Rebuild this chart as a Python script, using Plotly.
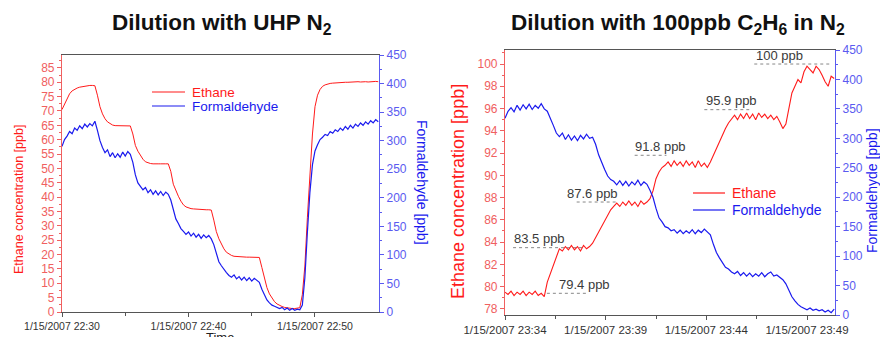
import pandas as pd
import plotly.graph_objects as go

# ---------------- left panel: dilution with UHP N2 ----------------
# instrument readings every 0.2 min starting 22:30
left_start = "2007-01-15 22:30:00"
left_step_min = 0.2
left_ethane = [
    70.5, 72.5, 74.5, 76.0, 77.0, 77.6, 78.0, 78.3, 78.5, 78.7,
    78.8, 78.9, 78.9, 78.8, 75.5, 71.5, 69.0, 67.3, 66.2, 65.5,
    65.1, 64.9, 64.9, 64.8, 64.9, 64.8, 64.8, 64.8, 62.0, 58.0,
    56.0, 54.5, 53.2, 52.3, 51.9, 51.7, 51.6, 51.7, 51.6, 51.6,
    51.7, 51.6, 51.6, 49.0, 44.5, 42.2, 40.3, 38.6, 37.3, 36.6,
    36.2, 36.0, 35.9, 35.8, 35.8, 35.7, 35.7, 35.6, 35.6, 35.5,
    32.0, 28.0, 25.5, 23.5, 22.0, 20.8, 20.1, 19.7, 19.4, 19.3,
    19.3, 19.2, 19.2, 19.1, 19.1, 19.1, 19.0, 19.0, 19.0, 15.5,
    11.5, 8.5, 6.3, 4.8, 3.6, 2.8, 2.3, 1.9, 1.6, 1.4,
    1.3, 1.2, 1.2, 1.3, 1.5, 6.0, 16.0, 33.0, 50.0, 62.0,
    71.5, 75.5, 77.5, 78.6, 79.1, 79.4, 79.6, 79.7, 79.8, 79.8,
    79.9, 79.9, 80.0, 80.0, 80.1, 80.0, 80.1, 80.2, 80.1, 80.2,
    80.2, 80.1, 80.2, 80.2, 80.3, 80.2,
]
left_formaldehyde = [
    290, 302, 308, 316, 312, 322, 318, 326, 321, 329,
    324, 330, 326, 334, 318, 300, 288, 279, 284, 272,
    279, 270, 277, 271, 280, 273, 281, 276, 262, 240,
    226, 219, 214, 218, 209, 214, 206, 212, 205, 211,
    204, 210, 206, 196, 178, 163, 155, 146, 141, 136,
    140, 133, 138, 131, 136, 129, 135, 130, 134, 128,
    118, 102, 88, 81, 74, 69, 64, 61, 65, 58,
    62, 56, 61, 55, 60, 54, 59, 56, 52, 40,
    29, 21, 16, 12, 10, 8, 6, 8, 4, 7,
    3, 6, 3, 5, 4, 12, 60, 140, 210, 258,
    282, 293, 302, 306, 311, 309, 316, 313, 319, 316,
    322, 318, 325, 320, 327, 322, 329, 325, 331, 327,
    333, 329, 335, 331, 337, 333,
]
left_ticks = ["1/15/2007 22:30", "1/15/2007 22:40", "1/15/2007 22:50"]

# ---------------- right panel: dilution with 100 ppb C2H6 in N2 ----------------
# readings every 0.15 min starting 23:34
right_start = "2007-01-15 23:34:00"
right_step_min = 0.15
right_ethane = [
    79.5, 79.3, 79.6, 79.2, 79.5, 79.3, 79.6, 79.2, 79.5, 79.3,
    79.6, 79.2, 79.4, 79.1, 80.4, 81.2, 81.9, 82.8, 83.4, 83.2,
    83.6, 83.3, 83.7, 83.3, 83.6, 83.2, 83.7, 83.4, 83.6, 83.9,
    84.4, 84.9, 85.5, 86.0, 86.5, 86.9, 87.2, 87.5, 87.2, 87.6,
    87.3, 87.7, 87.3, 87.6, 87.2, 87.7, 87.4, 87.6, 87.9, 88.6,
    89.7, 90.3, 90.7, 90.9, 91.2, 90.8, 91.3, 90.9, 91.2, 90.8,
    91.3, 90.9, 91.2, 90.7, 91.3, 90.8, 91.1, 90.7, 91.2, 91.8,
    92.5, 93.0, 93.6, 94.2, 94.7, 95.1, 95.4, 95.0, 95.5, 95.1,
    95.6, 95.1, 95.5, 95.0, 95.6, 95.2, 95.5, 95.1, 95.4, 95.0,
    95.3, 94.8, 94.2, 94.6, 96.2, 97.4, 98.0, 98.6, 98.3, 99.3,
    99.8, 99.5, 99.2, 99.8, 99.5, 99.0, 98.4, 98.0, 98.9, 98.7,
]
right_formaldehyde = [
    334, 346, 352, 345, 356, 348, 357, 350, 358, 349,
    356, 351, 359, 350, 346, 335, 322, 309, 303, 309,
    298, 306, 297, 304, 296, 305, 299, 307, 300, 302,
    290, 272, 258, 247, 236, 230, 227, 221, 228, 220,
    227, 219, 226, 221, 229, 220, 226, 222, 212, 200,
    181, 165, 158, 150, 148, 143, 145, 139, 144, 138,
    143, 139, 145, 138, 144, 140, 146, 141, 136, 120,
    106, 97, 88, 81, 78, 73, 70, 74, 67, 72,
    66, 71, 65, 70, 66, 72, 65, 70, 73, 66,
    68, 64, 60, 53, 42, 31, 24, 18, 14, 11,
    9, 12, 8, 10, 7, 9, 5, 8, 4, 10,
]
right_ticks = ["1/15/2007 23:34", "1/15/2007 23:39", "1/15/2007 23:44", "1/15/2007 23:49"]

# concentration steps marked on the right panel
step_values = [79.4, 83.5, 87.6, 91.8, 95.9, 100]
# where each dotted marker runs and where its text starts (minutes after 23:34)
step_line_from = [2.08, 0.40, 3.56, 6.44, 9.90, 12.38]
step_line_to = [4.11, 3.86, 5.54, 8.02, 12.13, 16.24]
step_text_at = [2.57, 0.35, 2.97, 6.34, 9.90, 12.38]

# ---------------- styling ----------------
W, H = 880, 337
FONT = "Liberation Sans, Arial, sans-serif"
RED = "#ff1a1a"
BLUE = "#1a1aee"
RED_AX = "#f06060"
BLUE_AX = "#5a5af0"
GRAY_TXT = "#3a3a3a"


def px_x(px):
    return px / W


def px_y(py):
    return 1 - py / H


def times(start, step, n):
    return pd.Timestamp(start) + pd.to_timedelta([i * step for i in range(n)], unit="min")


def at(start, minutes):
    return pd.Timestamp(start) + pd.to_timedelta(minutes, unit="min")


lt = times(left_start, left_step_min, len(left_ethane))
rt = times(right_start, right_step_min, len(right_ethane))

fig = go.Figure()
fig.add_trace(go.Scatter(x=lt, y=left_ethane, mode="lines", line=dict(color=RED, width=1),
                         xaxis="x", yaxis="y", showlegend=False))
fig.add_trace(go.Scatter(x=lt, y=left_formaldehyde, mode="lines", line=dict(color=BLUE, width=1.2),
                         xaxis="x", yaxis="y2", showlegend=False))

# dotted step markers under the text labels
for v, a, b in zip(step_values, step_line_from, step_line_to):
    fig.add_trace(go.Scatter(x=[at(right_start, a), at(right_start, b)], y=[v, v], mode="lines",
                             line=dict(color="#888888", width=1, dash="dot"),
                             xaxis="x2", yaxis="y3", showlegend=False, hoverinfo="skip"))

fig.add_trace(go.Scatter(x=rt, y=right_ethane, mode="lines", line=dict(color=RED, width=1.1),
                         xaxis="x2", yaxis="y3", showlegend=False))
fig.add_trace(go.Scatter(x=rt, y=right_formaldehyde, mode="lines", line=dict(color=BLUE, width=1.2),
                         xaxis="x2", yaxis="y4", showlegend=False))

fmt = "%m/%d/%Y %H:%M"
left_tickvals = [pd.to_datetime(s, format=fmt) for s in left_ticks]
right_tickvals = [pd.to_datetime(s, format=fmt) for s in right_ticks]
left_minor = [v + pd.Timedelta(minutes=5) for v in left_tickvals[:-1]]
right_minor = [v + pd.Timedelta(seconds=150) for v in right_tickvals]

xcommon = dict(showgrid=False, zeroline=False, showline=True, linecolor="#555555", linewidth=1.2,
               mirror=True, ticks="outside", ticklen=4, tickcolor="#555555", automargin=False,
               tickfont=dict(family=FONT, color="#333333"))


def yaxis_style(color, step, minor_step):
    return dict(showgrid=False, zeroline=False, showline=True, linecolor=color, linewidth=1.2,
                ticks="outside", ticklen=4, tickcolor=color, dtick=step, tick0=0, automargin=False,
                tickfont=dict(family=FONT, size=12, color=color),
                minor=dict(ticks="outside", ticklen=2, dtick=minor_step, tickcolor=color))


left_x_range = [pd.Timestamp(left_start), at(left_start, 25.06)]
right_x_range = [pd.Timestamp(right_start), at(right_start, 16.39)]

fig.update_layout(
    width=W, height=H, autosize=False,
    margin=dict(l=0, r=0, t=0, b=0, pad=0),
    paper_bgcolor="white", plot_bgcolor="white",
    showlegend=False,
    xaxis=dict(**xcommon, domain=[px_x(62), px_x(379)], anchor="y", range=left_x_range,
               tickmode="array", tickvals=left_tickvals, ticktext=left_ticks,
               minor=dict(tickmode="array", tickvals=left_minor, ticks="outside", ticklen=3,
                          tickcolor="#555555")),
    yaxis=dict(**yaxis_style(RED_AX, 5, 2.5), domain=[px_y(312), px_y(55)], anchor="x",
               range=[0, 89.5]),
    yaxis2=dict(**yaxis_style(BLUE_AX, 50, 25), overlaying="y", side="right", anchor="x",
                range=[0, 450]),
    xaxis2=dict(**xcommon, domain=[px_x(505), px_x(835)], anchor="y3", range=right_x_range,
                tickmode="array", tickvals=right_tickvals, ticktext=right_ticks,
                minor=dict(tickmode="array", tickvals=right_minor, ticks="outside", ticklen=3,
                           tickcolor="#555555")),
    yaxis3=dict(**yaxis_style(RED_AX, 2, 1), domain=[px_y(315), px_y(50)], anchor="x2",
                range=[77.45, 101.26]),
    yaxis4=dict(**yaxis_style(BLUE_AX, 50, 25), overlaying="y3", side="right", anchor="x2",
                range=[0, 450]),
)
fig.update_layout(xaxis_tickfont_size=10.5, xaxis2_tickfont_size=11.5)

ann = []
# panel titles
ann.append(dict(text="<b>Dilution with UHP N<sub>2</sub></b>", x=px_x(222), y=px_y(24),
                font=dict(family=FONT, size=22.5, color="#111111")))
ann.append(dict(text="<b>Dilution with 100ppb C<sub>2</sub>H<sub>6</sub> in N<sub>2</sub></b>",
                x=px_x(678), y=px_y(24), font=dict(family=FONT, size=22.5, color="#111111")))
# axis titles
ann.append(dict(text="Ethane concentration [ppb]", x=px_x(19), y=px_y(200), textangle=-90,
                font=dict(family=FONT, size=12.5, color=RED)))
ann.append(dict(text="Formaldehyde [ppb]", x=px_x(422), y=px_y(182), textangle=90,
                font=dict(family=FONT, size=14, color=BLUE)))
ann.append(dict(text="Ethane concentration [ppb]", x=px_x(458), y=px_y(192), textangle=-90,
                font=dict(family=FONT, size=18, color=RED)))
ann.append(dict(text="Formaldehyde [ppb]", x=px_x(872), y=px_y(191), textangle=-90,
                font=dict(family=FONT, size=14, color=BLUE)))
ann.append(dict(text="Time", x=px_x(220), y=px_y(337.5), font=dict(family=FONT, size=13, color="#222222")))
# legends
for label, color, lx0, lx1, ly, size in [
    ("Ethane", RED, 152, 185, 92, 13.5), ("Formaldehyde", BLUE, 152, 185, 106, 13.5),
    ("Ethane", RED, 693, 725, 193, 14), ("Formaldehyde", BLUE, 693, 725, 210, 14),
]:
    fig.add_shape(type="line", xref="paper", yref="paper", x0=px_x(lx0), x1=px_x(lx1),
                  y0=px_y(ly), y1=px_y(ly), line=dict(color=color, width=1.2))
    ann.append(dict(text=label, x=px_x(lx1 + 5), y=px_y(ly), xanchor="left",
                    font=dict(family=FONT, size=size, color=color)))

for a in ann:
    a.setdefault("xanchor", "center")
    a.update(xref="paper", yref="paper", yanchor="middle", showarrow=False)
    fig.add_annotation(**a)

# step labels
for v, tx in zip(step_values, step_text_at):
    fig.add_annotation(text=f"{v:g} ppb", x=at(right_start, tx), y=v, xref="x2", yref="y3",
                       xanchor="left", yanchor="middle", yshift=9, showarrow=False,
                       font=dict(family=FONT, size=13, color=GRAY_TXT))

fig.write_html("out.html")
